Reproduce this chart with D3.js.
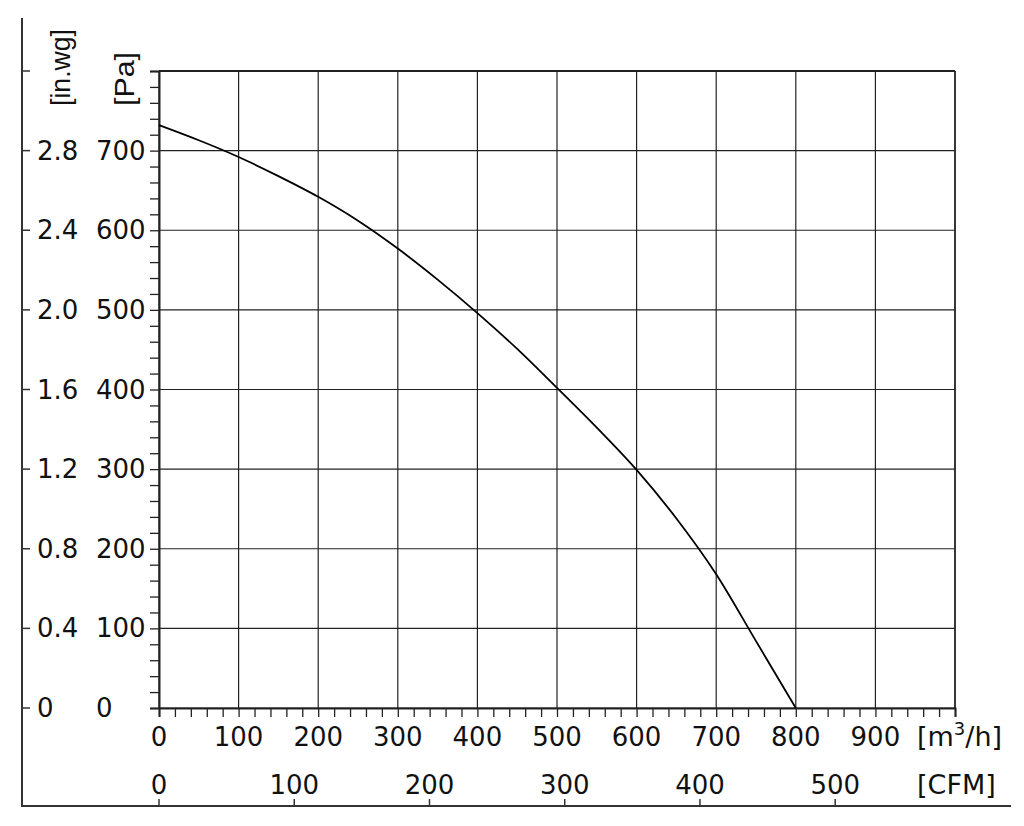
<!DOCTYPE html>
<html>
<head>
<meta charset="utf-8">
<script src="https://cdn.jsdelivr.net/npm/d3@7"></script>
<style>
  body { margin: 0; background: #fff; }
  text { font-family: "DejaVu Sans", Verdana, sans-serif; fill: #111; }
</style>
</head>
<body>
<div id="chart"></div>
<script>
// Fan curve: flow [m3/h] vs static pressure [Pa]
const flow = [0, 50, 100, 150, 200, 250, 300, 350, 400, 450, 500, 550, 600, 650, 700, 750, 800];
const pressure = [732, 713, 692, 668, 642, 612, 577, 538, 496, 451, 402, 352, 299, 238, 168, 84, 0];

// Tick labels
const paTicks = [0, 100, 200, 300, 400, 500, 600, 700];
const inwgLabels = ["0", "0.4", "0.8", "1.2", "1.6", "2.0", "2.4", "2.8"];
const flowTicks = [0, 100, 200, 300, 400, 500, 600, 700, 800, 900];
const cfmTicks = [0, 100, 200, 300, 400, 500];
const cfmToM3h = 1.699;

const W = 1024, H = 826;
const fs = 26;

const svg = d3.select("#chart")
    .append("svg")
    .attr("width", W)
    .attr("height", H);

// Scales
const x = d3.scaleLinear().domain([0, 1000]).range([159, 955]);
const y = d3.scaleLinear().domain([0, 800]).range([708, 71]);

// Grid lines
svg.append("g")
    .selectAll("line")
    .data(d3.range(0, 1001, 100))
    .enter().append("line")
    .attr("x1", d => x(d)).attr("x2", d => x(d))
    .attr("y1", y(0)).attr("y2", y(800))
    .attr("stroke", "#222")
    .attr("stroke-width", 1.2);

svg.append("g")
    .selectAll("line")
    .data(d3.range(0, 801, 100))
    .enter().append("line")
    .attr("x1", x(0)).attr("x2", x(1000))
    .attr("y1", d => y(d)).attr("y2", d => y(d))
    .attr("stroke", "#222")
    .attr("stroke-width", 1.2);

// Minor ticks on the plot axes
svg.append("g")
    .attr("transform", "translate(" + x(0) + ",0)")
    .call(d3.axisLeft(y).tickValues(d3.range(0, 801, 20)).tickSize(9).tickFormat(""))
    .call(g => g.selectAll("line").attr("stroke", "#222").attr("stroke-width", 1.3))
    .call(g => g.select(".domain").attr("stroke", "#222").attr("stroke-width", 2));

svg.append("g")
    .attr("transform", "translate(0," + y(0) + ")")
    .call(d3.axisBottom(x).tickValues(d3.range(0, 1001, 20)).tickSize(9).tickFormat(""))
    .call(g => g.selectAll("line").attr("stroke", "#222").attr("stroke-width", 1.3))
    .call(g => g.select(".domain").attr("stroke", "#222").attr("stroke-width", 2));

// Frame top and right
svg.append("line")
    .attr("x1", x(0)).attr("x2", x(1000))
    .attr("y1", y(800)).attr("y2", y(800))
    .attr("stroke", "#222").attr("stroke-width", 2);
svg.append("line")
    .attr("x1", x(1000)).attr("x2", x(1000))
    .attr("y1", y(800)).attr("y2", y(0))
    .attr("stroke", "#222").attr("stroke-width", 1.5);

// Pa labels
svg.append("g")
    .selectAll("text")
    .data(paTicks)
    .enter().append("text")
    .attr("x", 96)
    .attr("y", d => y(d))
    .attr("dy", "0.35em")
    .style("font-size", fs + "px")
    .text(d => d);

// in.wg labels
svg.append("g")
    .selectAll("text")
    .data(inwgLabels)
    .enter().append("text")
    .attr("x", 37)
    .attr("y", (d, i) => y(paTicks[i]))
    .attr("dy", "0.35em")
    .style("font-size", fs + "px")
    .text(d => d);

// Outer left axis with in.wg ticks
svg.append("line")
    .attr("x1", 22).attr("x2", 22)
    .attr("y1", 18).attr("y2", 806)
    .attr("stroke", "#333").attr("stroke-width", 2);
svg.append("g")
    .selectAll("line")
    .data(d3.range(0, 801, 100))
    .enter().append("line")
    .attr("x1", 22).attr("x2", 30)
    .attr("y1", d => y(d)).attr("y2", d => y(d))
    .attr("stroke", "#333").attr("stroke-width", 1.5);

// Axis unit labels (rotated)
svg.append("text")
    .attr("transform", "translate(70,106) rotate(-90)")
    .style("font-family", "'Liberation Sans', Arial, sans-serif")
    .style("font-size", "27px")
    .attr("textLength", 77)
    .attr("lengthAdjust", "spacingAndGlyphs")
    .text("[in.wg]");
svg.append("text")
    .attr("transform", "translate(134,106) rotate(-90)")
    .style("font-family", "'Liberation Sans', Arial, sans-serif")
    .style("font-size", "28px")
    .attr("textLength", 54)
    .attr("lengthAdjust", "spacingAndGlyphs")
    .text("[Pa]");

// m3/h labels
svg.append("g")
    .selectAll("text")
    .data(flowTicks)
    .enter().append("text")
    .attr("x", d => x(d))
    .attr("y", 746)
    .attr("text-anchor", "middle")
    .style("font-size", fs + "px")
    .text(d => d);

const unit = svg.append("text")
    .attr("x", 917)
    .attr("y", 746)
    .style("font-size", "27px");
unit.append("tspan").text("[m");
unit.append("tspan").attr("dy", -11).style("font-size", "18px").text("3");
unit.append("tspan").attr("dy", 11).text("/h]");

// Outer bottom axis with CFM ticks
svg.append("line")
    .attr("x1", 21).attr("x2", 1011)
    .attr("y1", 806).attr("y2", 806)
    .attr("stroke", "#333").attr("stroke-width", 2);
svg.append("g")
    .selectAll("line")
    .data(cfmTicks)
    .enter().append("line")
    .attr("x1", d => x(d * cfmToM3h)).attr("x2", d => x(d * cfmToM3h))
    .attr("y1", 799).attr("y2", 806)
    .attr("stroke", "#333").attr("stroke-width", 1.5);
svg.append("g")
    .selectAll("text")
    .data(cfmTicks)
    .enter().append("text")
    .attr("x", d => x(d * cfmToM3h))
    .attr("y", 794)
    .attr("text-anchor", "middle")
    .style("font-size", fs + "px")
    .text(d => d);
svg.append("text")
    .attr("x", 917)
    .attr("y", 794)
    .style("font-size", "27px")
    .text("[CFM]");

// Fan curve
const line = d3.line()
    .x((d, i) => x(flow[i]))
    .y(d => y(d))
    .curve(d3.curveMonotoneX);

svg.append("path")
    .attr("d", line(pressure))
    .attr("fill", "none")
    .attr("stroke", "#000")
    .attr("stroke-width", 1.8);
</script>
</body>
</html>
